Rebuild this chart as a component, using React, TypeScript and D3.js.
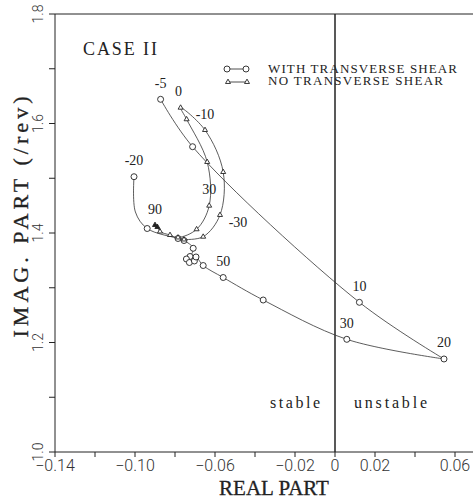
import React from 'react'
import * as d3 from 'd3'

// WITH TRANSVERSE SHEAR (circles), in drawing order along the curve
const circleRe = [-0.1005, -0.0998, -0.0939, -0.0785, -0.0755, -0.0709, -0.0725, -0.0743, -0.0728, -0.0703, -0.0695, -0.0659, -0.0559, -0.0359, 0.0059, 0.0545, 0.0122, -0.0712, -0.0872]
const circleIm = [1.5028, 1.4384, 1.4082, 1.3900, 1.3863, 1.3721, 1.3571, 1.3525, 1.3461, 1.3489, 1.3562, 1.3406, 1.3187, 1.2776, 1.2058, 1.1699, 1.2734, 1.5576, 1.6442]
const circleMark = [1, 0, 1, 1, 1, 1, 1, 1, 1, 1, 1, 1, 1, 1, 1, 1, 1, 1, 1]
const circleLabel = ['-20', '', '', '', '', '', '', '', '', '', '', '', '50', '', '30', '20', '10', '', '-5']
// the curve turns sharply at "20", so it is drawn as two pieces
const circleBreak = 15

// NO TRANSVERSE SHEAR (triangles)
const triRe = [-0.0900, -0.0888, -0.0875, -0.0825, -0.0785, -0.0692, -0.0629, -0.0639, -0.0742, -0.0772, -0.0650, -0.0559, -0.0575, -0.0659, -0.0755]
const triIm = [1.4146, 1.4110, 1.4027, 1.3963, 1.3918, 1.4068, 1.4499, 1.5297, 1.6077, 1.6289, 1.5881, 1.5114, 1.4329, 1.3932, 1.3881]
const triLabel = ['90', '', '', '', '', '', '30', '', '', '0', '-10', '', '-30', '', '']

const xTicks = [-0.14, -0.12, -0.10, -0.08, -0.06, -0.04, -0.02, 0, 0.02, 0.04, 0.06]
const xTickLabels = ['−0.14', '', '−0.10', '', '−0.06', '', '−0.02', '0', '0.02', '', '0.06']
const yTicks = [1.0, 1.1, 1.2, 1.3, 1.4, 1.5, 1.6, 1.7, 1.8]
const yTickLabels = ['1.0', '', '1.2', '', '1.4', '', '1.6', '', '1.8']

const width = 473
const height = 500
const ink = '#222'
const serif = '"Liberation Serif", "Times New Roman", serif'
const thin = 'Roboto, "DejaVu Sans", sans-serif'

const x = d3.scaleLinear().domain([-0.14, 0.07]).range([55, 475])
const y = d3.scaleLinear().domain([1.0, 1.8]).range([452, 14])

const line = d3.line<[number, number]>()
  .x(d => x(d[0]))
  .y(d => y(d[1]))
  .curve(d3.curveCatmullRom.alpha(0.5))

function triPath(cx: number, cy: number, s = 5) {
  const h = s * 0.87
  return `M${cx},${cy - h * 0.66}L${cx + s / 2},${cy + h * 0.34}L${cx - s / 2},${cy + h * 0.34}Z`
}

// labels sit above their point, except -30 which is beside it
function labelPos(t: string) {
  if (t === '-30') return [18, 12]
  if (t === '0') return [-2, -12]
  return [0, -11.5]
}

export default function App() {
  const circlePts: [number, number][] = circleRe.map((r, i) => [r, circleIm[i]])
  const triPts: [number, number][] = triRe.map((r, i) => [r, triIm[i]])

  return (
    <svg width={width} height={height} style={{ position: 'absolute', left: 0, top: 0, background: '#fff' }}>
      {/* frame */}
      <line x1={x(-0.14)} x2={width} y1={y(1.8)} y2={y(1.8)} stroke={ink} strokeWidth={1} />
      <line x1={x(-0.14)} x2={x(-0.14)} y1={y(1.8)} y2={y(1.0)} stroke={ink} strokeWidth={1} />
      <line x1={x(-0.14)} x2={width} y1={y(1.0)} y2={y(1.0)} stroke={ink} strokeWidth={1} />
      <line x1={x(0)} x2={x(0)} y1={y(1.8)} y2={y(1.0)} stroke={ink} strokeWidth={1.5} />

      {xTicks.map((t, i) => (
        <g key={'xt' + i}>
          <line x1={x(t)} x2={x(t)} y1={y(1.0)} y2={y(1.0) + 5} stroke={ink} />
          <text x={x(t)} y={471} textAnchor="middle" fontFamily={thin} fontWeight={300} fontSize={16} fill="#333">{xTickLabels[i]}</text>
        </g>
      ))}
      {yTicks.map((t, i) => (
        <g key={'yt' + i}>
          <line x1={x(-0.14) - 6} x2={x(-0.14)} y1={y(t)} y2={y(t)} stroke={ink} />
          <text transform={`translate(43,${y(t)}) rotate(-90)`} textAnchor="middle" fontFamily={thin} fontWeight={300} fontSize={14} fill="#333">{yTickLabels[i]}</text>
        </g>
      ))}

      {/* axis titles */}
      <text x={274} y={495} textAnchor="middle" fontFamily={serif} fontSize={21} fill={ink} stroke={ink} strokeWidth={0.3}>REAL PART</text>
      <text transform="translate(28,217) rotate(-90)" textAnchor="middle" fontFamily={serif} fontSize={22} fill={ink}
        stroke={ink} strokeWidth={0.3} textLength={241} lengthAdjust="spacing">IMAG. PART (/rev)</text>

      <text x={83} y={55} fontFamily={serif} fontSize={18} fill={ink} textLength={74} lengthAdjust="spacing">CASE II</text>
      <text x={270} y={408} fontFamily={serif} fontSize={16} fill={ink} textLength={50} lengthAdjust="spacing">stable</text>
      <text x={354} y={408} fontFamily={serif} fontSize={16} fill={ink} textLength={73} lengthAdjust="spacing">unstable</text>

      {/* legend */}
      <line x1={227} x2={246} y1={69} y2={69} stroke={ink} strokeWidth={0.8} />
      <circle cx={227} cy={69} r={3} fill="#fff" stroke={ink} strokeWidth={0.9} />
      <circle cx={246} cy={69} r={3} fill="#fff" stroke={ink} strokeWidth={0.9} />
      <text x={268} y={72.5} fontFamily={serif} fontSize={13} fill={ink} textLength={189} lengthAdjust="spacing">WITH TRANSVERSE SHEAR</text>
      <line x1={228} x2={247} y1={82} y2={82} stroke={ink} strokeWidth={0.8} />
      <path d={triPath(228, 82)} fill="#fff" stroke={ink} strokeWidth={0.9} />
      <path d={triPath(247, 82)} fill="#fff" stroke={ink} strokeWidth={0.9} />
      <text x={268} y={84.5} fontFamily={serif} fontSize={13} fill={ink} textLength={175} lengthAdjust="spacing">NO TRANSVERSE SHEAR</text>

      {/* curves */}
      <path d={line(circlePts.slice(0, circleBreak + 1)) || ''} fill="none" stroke="#333" strokeWidth={0.8} />
      <path d={line(circlePts.slice(circleBreak)) || ''} fill="none" stroke="#333" strokeWidth={0.8} />
      <path d={line(triPts) || ''} fill="none" stroke="#333" strokeWidth={0.8} />

      {circlePts.map((p, i) => circleMark[i] ? (
        <circle key={'c' + i} cx={x(p[0])} cy={y(p[1])} r={3} fill="#fff" stroke={ink} strokeWidth={0.9} />
      ) : null)}
      {triPts.map((p, i) => (
        <path key={'t' + i} d={triPath(x(p[0]), y(p[1]))} fill={i < 2 ? ink : '#fff'} stroke={ink} strokeWidth={0.9} />
      ))}

      {circlePts.map((p, i) => circleLabel[i] ? (
        <text key={'cl' + i} x={x(p[0]) + labelPos(circleLabel[i])[0]} y={y(p[1]) + labelPos(circleLabel[i])[1]}
          textAnchor="middle" fontFamily={serif} fontSize={14} fill={ink}>{circleLabel[i]}</text>
      ) : null)}
      {triPts.map((p, i) => triLabel[i] ? (
        <text key={'tl' + i} x={x(p[0]) + labelPos(triLabel[i])[0]} y={y(p[1]) + labelPos(triLabel[i])[1]}
          textAnchor="middle" fontFamily={serif} fontSize={14} fill={ink}>{triLabel[i]}</text>
      ) : null)}
    </svg>
  )
}
